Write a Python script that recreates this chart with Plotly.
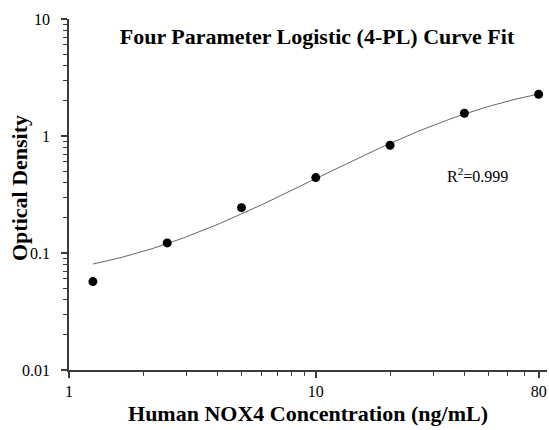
import numpy as np
import plotly.graph_objects as go

# Data
conc = [1.25, 2.5, 5, 10, 20, 40, 80]
od = [0.057, 0.122, 0.244, 0.441, 0.833, 1.564, 2.276]
x_tick_vals = [1, 10, 80]
x_tick_text = ["1", "10", "80"]
y_tick_vals = [0.01, 0.1, 1, 10]
y_tick_text = ["0.01", "0.1", "1", "10"]
r2_text = "R<sup>2</sup>=0.999"

# 4-PL fit to the data (grid search over B, C; A, D by linear least squares)
xd = np.array(conc, dtype=float)
yd = np.array(od, dtype=float)
best = None
for B in np.linspace(0.6, 2.5, 191):
    for C in np.logspace(0, 3, 301):
        g = 1.0 / (1.0 + (xd / C) ** B)
        M = np.column_stack([g, 1 - g])
        coef, *_ = np.linalg.lstsq(M, yd, rcond=None)
        res = np.sum((M @ coef - yd) ** 2)
        if best is None or res < best[0]:
            best = (res, coef[0], B, C, coef[1])
_, A, B, C, D = best
xf = np.logspace(np.log10(conc[0]), np.log10(conc[-1]), 200)
yf = D + (A - D) / (1 + (xf / C) ** B)

serif = "Liberation Serif, Times New Roman, serif"
axis_col = "#3a3a3a"

fig = go.Figure()
fig.add_trace(go.Scatter(x=xf, y=yf, mode="lines",
                         line=dict(color="#666666", width=1), hoverinfo="skip"))
fig.add_trace(go.Scatter(x=conc, y=od, mode="markers",
                         marker=dict(color="black", size=9)))

minor_x = [2, 3, 4, 5, 6, 7, 8, 9, 20, 30, 40, 50, 60, 70]
minor_y = [m * d for d in [0.01, 0.1, 1] for m in range(2, 10)]

fig.update_layout(
    width=549, height=430,
    margin=dict(l=69, r=2, t=19, b=60),
    paper_bgcolor="white", plot_bgcolor="white",
    showlegend=False,
    font=dict(family=serif, color="black", size=16),
    title=dict(text="<b>Four Parameter Logistic (4-PL) Curve Fit</b>",
               x=317 / 549, xanchor="center", y=1 - 36 / 430, yanchor="middle",
               font=dict(family=serif, size=22, color="black")),
    xaxis=dict(type="log", range=[0, 1.937],
               tickmode="array", tickvals=x_tick_vals, ticktext=x_tick_text,
               ticks="outside", ticklen=6, tickwidth=1.5, tickcolor=axis_col,
               showline=True, linecolor=axis_col, linewidth=1.5,
               showgrid=False, zeroline=False,
               tickfont=dict(family=serif, size=16, color="black"),
               minor=dict(tickmode="array", tickvals=minor_x, ticks="outside",
                          ticklen=4, tickwidth=1.2, tickcolor=axis_col, showgrid=False),
               title=dict(text="<b>Human NOX4 Concentration (ng/mL)</b>",
                          font=dict(family=serif, size=22, color="black"), standoff=7)),
    yaxis=dict(type="log", range=[-2, 1],
               tickmode="array", tickvals=y_tick_vals, ticktext=y_tick_text,
               ticks="outside", ticklen=6, tickwidth=1.5, tickcolor=axis_col,
               showline=True, linecolor=axis_col, linewidth=1.5,
               showgrid=False, zeroline=False,
               tickfont=dict(family=serif, size=16, color="black"),
               ticklabelstandoff=8,
               minor=dict(tickmode="array", tickvals=minor_y, ticks="outside",
                          ticklen=4, tickwidth=1.2, tickcolor=axis_col, showgrid=False)),
)

# y-axis title placed as a rotated annotation to match the reference position
fig.add_annotation(x=(19 - 69) / (549 - 69 - 2), y=(430 - 60 - 188) / (430 - 19 - 60),
                   xref="paper", yref="paper", text="<b>Optical Density</b>",
                   textangle=-90, showarrow=False, xanchor="center", yanchor="middle",
                   font=dict(family=serif, size=22, color="black"))

fig.add_annotation(x=np.log10(33.5), y=np.log10(0.467), xref="x", yref="y",
                   text=r2_text, showarrow=False, xanchor="left", yanchor="middle",
                   font=dict(family=serif, size=16, color="black"))

fig.write_html("out.html", config={"displayModeBar": False},
               post_script="document.body.style.margin='0';document.body.style.overflow='hidden';")
